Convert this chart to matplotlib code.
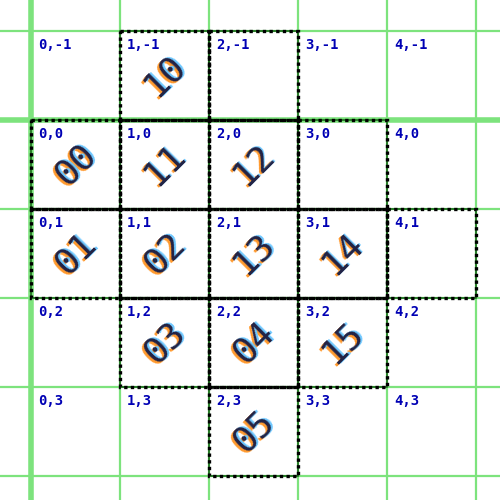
import matplotlib
matplotlib.use("Agg")
import matplotlib.pyplot as plt
from matplotlib.patches import Rectangle

cols = [0, 1, 2, 3, 4]
rows = [-1, 0, 1, 2, 3]
tiles = [(1,-1),(2,-1),(0,0),(1,0),(2,0),(3,0),(0,1),(1,1),(2,1),(3,1),(4,1),(1,2),(2,2),(3,2),(2,3)]
tile_text = {(1,-1):"10",(0,0):"00",(1,0):"11",(2,0):"12",(0,1):"01",(1,1):"02",
             (2,1):"13",(3,1):"14",(1,2):"03",(2,2):"04",(3,2):"15",(2,3):"05"}

fig = plt.figure(figsize=(5,5), dpi=100)
ax = fig.add_axes([0,0,1,1])
ax.set_xlim(-31/89, 469/89)
ax.set_ylim(380/89, -120/89)
ax.axis("off")

for c in range(-1, 7):
    ax.axvline(c, color="#7de37d", lw=4 if c == 0 else 1.6, zorder=1)
for r in range(-2, 6):
    ax.axhline(r, color="#7de37d", lw=4 if r == 0 else 1.6, zorder=1)

for (c, r) in tiles:
    ax.add_patch(Rectangle((c, r), 1, 1, fill=False, edgecolor="#1a6b1a", lw=1.2, zorder=2))
    ax.add_patch(Rectangle((c, r), 1, 1, fill=False, edgecolor="black", lw=2.4, linestyle=(0,(1,1)), zorder=3))

for c in cols:
    for r in rows:
        ax.text(c + 0.08, r + 0.2, f"{c},{r}", color="#0000b4", fontsize=10,
                fontweight="bold", family="DejaVu Sans Mono", zorder=5)

for (c, r), t in tile_text.items():
    cx, cy = c + 0.5, r + 0.5
    for dx, dy, col in [(-0.02, 0.015, "#ff9a2e"), (0.02, -0.015, "#6ec8ff"), (0, 0, "#222244")]:
        ax.text(cx + dx, cy + dy, t, color=col, fontsize=26, rotation=45,
                ha="center", va="center", family="DejaVu Sans Mono",
                fontweight="light", zorder=4)

fig.savefig("out.png", dpi=100)
